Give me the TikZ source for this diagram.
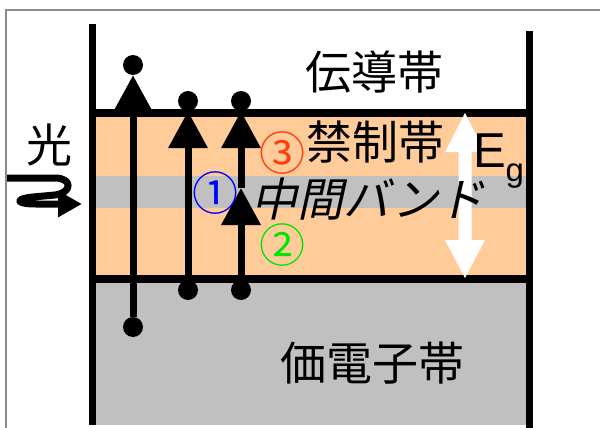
\documentclass[tikz,border=0pt]{standalone}
\usepackage{fontspec}
\setmainfont{Noto Sans CJK JP}
\newfontfamily\cjkslant{Noto Sans CJK JP}[FakeSlant=0.22]
\newfontfamily\latinsans{Liberation Sans}
\usetikzlibrary{arrows.meta}
\definecolor{peach}{RGB}{255,204,153}
\definecolor{bandgray}{RGB}{192,192,192}
\definecolor{frameg}{RGB}{140,140,140}
\definecolor{numred}{RGB}{255,60,10}
\definecolor{numblue}{RGB}{0,0,255}
\definecolor{numgreen}{RGB}{0,230,0}
\begin{document}
\begin{tikzpicture}[x=1pt,y=-1pt,
  lbl/.style={inner sep=0pt, font=\fontsize{46}{50}\selectfont},
  dot/.style={circle, fill=black, minimum size=20pt, inner sep=0pt},
  bandline/.style={line width=8pt},
  wall/.style={line width=7pt},
  jump/.style={line width=7pt, -{Triangle[width=38pt,length=37pt]}},
]
\useasboundingbox (0,0) rectangle (600,428);
\fill[white] (0,0) rectangle (600,428);
% bands
\fill[peach] (92,113) rectangle (530,279);
\fill[bandgray] (92,176) rectangle (530,208);
\fill[bandgray] (92,279) rectangle (530,425);
% outer frame
\draw[frameg, line width=2pt] (6,428) -- (6,10.5) -- (600,10.5);
% walls and band edges
\draw[wall] (92.5,24) -- (92.5,425);
\draw[wall] (529.5,31) -- (529.5,428);
\draw[bandline] (92.5,113) -- (529.5,113);
\draw[bandline] (92.5,279) -- (529.5,279);
% electrons
\node[dot] (t1) at (133,65) {};
\node[dot] (t2) at (188,101) {};
\node[dot] (t3) at (241,101) {};
\node[dot] (b1) at (133,327) {};
\node[dot] (b2) at (188,290) {};
\node[dot] (b3) at (241,290) {};
\coordinate (m3) at (241,188);
\draw[jump] (b1) -- (t1);
\draw[jump] (b2) -- (t2);
\draw[jump] (b3) -- (m3);
\draw[jump] (m3) -- (t3);
% band gap arrow
\fill[white] (465,113) -- (485,152) -- (471.5,152) -- (471.5,240) -- (485,240)
  -- (465,278) -- (445,240) -- (458.5,240) -- (458.5,152) -- (445,152) -- cycle;
% light
\draw[line width=7pt, line join=round, -{Triangle[width=25pt,length=24pt]}]
  (7,178) -- (55,178) .. controls (73,178) and (72,193) .. (55,195)
  -- (33,197) .. controls (14,199) and (16,204) .. (36,204) -- (82,204);
% labels
\node[lbl] (cb) at (374,72) {伝導帯};
\node[lbl] (fb) at (375,142) {禁制帯};
\node[lbl, font=\fontsize{46}{50}\cjkslant] (ib) at (368,199) {中間バンド};
\node[lbl] (vb) at (372,363) {価電子帯};
\node[lbl] (hv) at (49,145) {光};
\node[lbl, text=numred] (n3) at (282,153) {③};
\node[lbl, text=numblue] (n1) at (215,193) {①};
\node[lbl, text=numgreen] (n2) at (282,245) {②};
\node[inner sep=0pt, anchor=base west, font=\fontsize{49}{52}\latinsans] (eg) at (473,167) {E};
\node[inner sep=0pt, anchor=base west, font=\fontsize{33}{36}\latinsans] (egs) at (505.5,181) {g};
\end{tikzpicture}
\end{document}
